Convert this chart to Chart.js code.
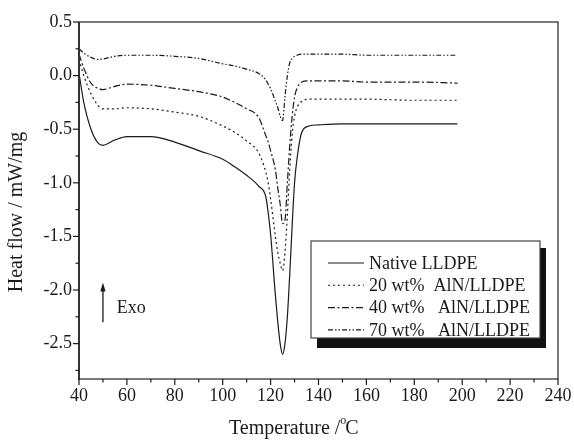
<!DOCTYPE html>
<html>
<head>
<meta charset="utf-8">
<script src="https://cdn.jsdelivr.net/npm/chart.js@4/dist/chart.umd.min.js"></script>
<style>
  html, body { margin: 0; padding: 0; background: #fff; }
  #wrap { width: 574px; height: 441px; position: relative; }
</style>
</head>
<body>
<div id="wrap"><canvas id="c"></canvas></div>
<script>
// temperature grid (°C) shared by all curves
const temps = [40, 42, 45, 48, 50, 55, 60, 70, 80, 90, 100, 105, 110, 115, 118, 119, 120, 122, 123, 124, 125, 126, 127, 128, 129, 130, 131, 133, 136, 140, 150, 160, 180, 198]

// heat flow (mW/mg)
const nativeLLDPE = [0.02, -0.25, -0.50, -0.63, -0.65, -0.60, -0.57, -0.57, -0.62, -0.70, -0.78, -0.85, -0.93, -1.03, -1.13, -1.28, -1.48, -2.05, -2.30, -2.50, -2.60, -2.50, -2.25, -1.85, -1.40, -1.00, -0.78, -0.53, -0.47, -0.46, -0.45, -0.45, -0.45, -0.45]
const aln20 = [0.15, 0.00, -0.17, -0.28, -0.31, -0.31, -0.30, -0.31, -0.34, -0.38, -0.47, -0.53, -0.61, -0.72, -0.90, -1.00, -1.15, -1.50, -1.65, -1.75, -1.82, -1.65, -1.30, -0.88, -0.55, -0.38, -0.30, -0.24, -0.22, -0.22, -0.22, -0.22, -0.23, -0.23]
const aln40 = [0.20, 0.07, -0.07, -0.12, -0.13, -0.10, -0.08, -0.09, -0.12, -0.15, -0.20, -0.25, -0.31, -0.39, -0.56, -0.62, -0.70, -0.88, -1.05, -1.20, -1.38, -1.35, -1.00, -0.65, -0.38, -0.20, -0.12, -0.06, -0.05, -0.05, -0.05, -0.06, -0.06, -0.07]
const aln70 = [0.25, 0.21, 0.17, 0.15, 0.155, 0.18, 0.19, 0.19, 0.18, 0.16, 0.11, 0.09, 0.06, 0.02, -0.04, -0.08, -0.12, -0.24, -0.30, -0.38, -0.42, -0.20, 0.00, 0.12, 0.16, 0.18, 0.19, 0.20, 0.20, 0.20, 0.20, 0.19, 0.19, 0.19]

const seriesNames = ['Native LLDPE', '20 wt%  AlN/LLDPE', '40 wt%   AlN/LLDPE', '70 wt%   AlN/LLDPE']
const seriesDash = [[], [2, 3], [7, 2.5, 2, 2.5], [5, 2, 1.5, 2, 1.5, 2]]

const xTicks = [40, 60, 80, 100, 120, 140, 160, 180, 200, 220, 240]
const yTicks = [0.5, 0.0, -0.5, -1.0, -1.5, -2.0, -2.5]

const serif = "'Liberation Serif', 'Times New Roman', serif"
const ink = '#1a1a1a'

const pts = vals => temps.map((t, i) => ({ x: t, y: vals[i] }))

const decor = {
  id: 'decor',
  afterDraw(chart) {
    const { ctx, chartArea: a, scales: { x, y } } = chart
    ctx.save()
    // frame
    ctx.strokeStyle = '#333'
    ctx.lineWidth = 1.3
    ctx.strokeRect(a.left, a.top, a.right - a.left, a.bottom - a.top)
    ctx.lineWidth = 2
    ctx.beginPath(); ctx.moveTo(a.left, a.top); ctx.lineTo(a.left, a.bottom + 1); ctx.stroke()

    // outward ticks
    ctx.lineWidth = 1.2
    ctx.strokeStyle = ink
    for (let v = 40; v <= 240; v += 10) {
      const px = x.getPixelForValue(v)
      const len = v % 20 === 0 ? 6 : 3.5
      ctx.beginPath(); ctx.moveTo(px, a.bottom); ctx.lineTo(px, a.bottom + len); ctx.stroke()
    }
    for (let v = -2.75; v <= 0.5001; v += 0.25) {
      const py = y.getPixelForValue(v)
      const major = Math.abs(v * 2 - Math.round(v * 2)) < 1e-6
      ctx.beginPath(); ctx.moveTo(a.left, py); ctx.lineTo(a.left - (major ? 6 : 3.5), py); ctx.stroke()
    }

    // tick labels
    ctx.fillStyle = ink
    ctx.font = '18px ' + serif
    ctx.textAlign = 'center'; ctx.textBaseline = 'top'
    xTicks.forEach(v => ctx.fillText(String(v), x.getPixelForValue(v), a.bottom + 8))
    ctx.textAlign = 'right'; ctx.textBaseline = 'middle'
    yTicks.forEach(v => ctx.fillText(v.toFixed(1), a.left - 7, y.getPixelForValue(v)))

    // axis titles
    ctx.font = '20px ' + serif
    ctx.textAlign = 'left'; ctx.textBaseline = 'alphabetic'
    let tx = 229
    const ty = 434
    ctx.fillText('Temperature /', tx, ty)
    tx += ctx.measureText('Temperature /').width
    ctx.font = '12px ' + serif
    ctx.fillText('o', tx, ty - 10)
    tx += ctx.measureText('o').width - 1
    ctx.font = '20px ' + serif
    ctx.fillText('C', tx, ty)

    ctx.save()
    ctx.translate(17, 212)
    ctx.rotate(-Math.PI / 2)
    ctx.textAlign = 'center'; ctx.textBaseline = 'middle'
    ctx.fillText('Heat flow / mW/mg', 0, 0)
    ctx.restore()

    // Exo arrow
    const ax = x.getPixelForValue(50)
    const yTop = y.getPixelForValue(-1.93), yBot = y.getPixelForValue(-2.3)
    ctx.lineWidth = 1.3
    ctx.beginPath(); ctx.moveTo(ax, yBot); ctx.lineTo(ax, yTop + 6); ctx.stroke()
    ctx.beginPath(); ctx.moveTo(ax, yTop); ctx.lineTo(ax - 2.6, yTop + 9); ctx.lineTo(ax + 2.6, yTop + 9); ctx.closePath(); ctx.fill()
    ctx.font = '18px ' + serif
    ctx.textAlign = 'left'; ctx.textBaseline = 'middle'
    ctx.fillText('Exo', x.getPixelForValue(55.8), y.getPixelForValue(-2.17))

    // legend box with drop shadow
    const bx = 311, by = 241, bw = 229, bh = 97
    ctx.fillStyle = '#111'
    ctx.fillRect(bx + 6, by + 7, bw, bh + 3)
    ctx.fillStyle = '#fff'
    ctx.fillRect(bx, by, bw, bh)
    ctx.strokeStyle = '#444'; ctx.lineWidth = 1.2
    ctx.strokeRect(bx, by, bw, bh)
    ctx.font = '18px ' + serif
    ctx.textBaseline = 'middle'
    chart.data.datasets.forEach((ds, i) => {
      const ry = 263 + i * 22.3
      ctx.strokeStyle = ink; ctx.lineWidth = 1.1
      ctx.setLineDash(ds.borderDash)
      ctx.beginPath(); ctx.moveTo(328, ry); ctx.lineTo(364, ry); ctx.stroke()
      ctx.setLineDash([])
      ctx.fillStyle = ink
      ctx.fillText(ds.label, 369, ry + 1)
    })
    ctx.restore()
  }
}

new Chart(document.getElementById('c'), {
  type: 'line',
  data: {
    datasets: [nativeLLDPE, aln20, aln40, aln70].map((vals, i) => ({
      label: seriesNames[i],
      data: pts(vals),
      borderColor: ink,
      borderWidth: 1.2,
      borderDash: seriesDash[i],
      pointRadius: 0,
      fill: false,
      cubicInterpolationMode: 'monotone'
    }))
  },
  options: {
    responsive: true,
    maintainAspectRatio: false,
    animation: false,
    layout: { padding: { top: 22, right: 16, left: 0, bottom: 0 } },
    plugins: { legend: { display: false }, tooltip: { enabled: false } },
    scales: {
      x: {
        type: 'linear', min: 40, max: 240,
        grid: { display: false }, border: { display: false },
        ticks: { display: false },
        afterFit: s => { s.height = 62 }
      },
      y: {
        min: -2.83, max: 0.5,
        grid: { display: false }, border: { display: false },
        ticks: { display: false },
        afterFit: s => { s.width = 79 }
      }
    }
  },
  plugins: [decor]
})
</script>
</body>
</html>
